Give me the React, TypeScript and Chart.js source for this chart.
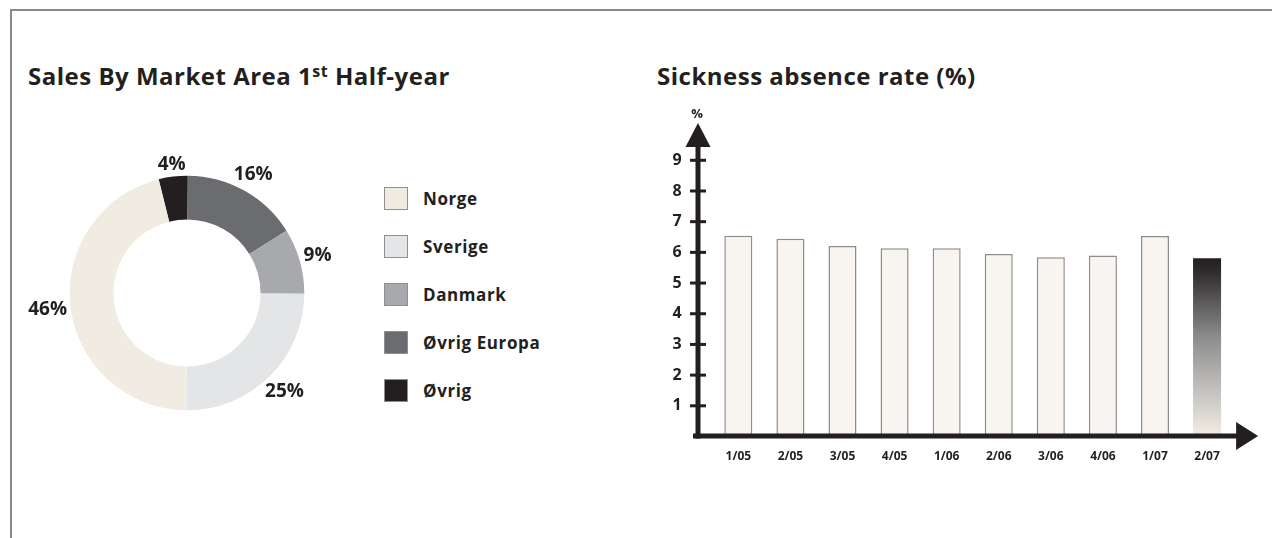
import React, { useEffect, useRef } from "react";
import { Chart, registerables } from "chart.js";

Chart.register(...registerables);

// ---------- Data ----------
const marketLabels = ["Norge", "Sverige", "Danmark", "Øvrig Europa", "Øvrig"];
const marketShares = [46, 25, 9, 16, 4];
const marketColors = ["#f1ece2", "#e4e5e7", "#a8a9ad", "#6b6c70", "#231f20"];

const periods = ["1/05", "2/05", "3/05", "4/05", "1/06", "2/06", "3/06", "4/06", "1/07", "2/07"];
const absenceRate = [6.54, 6.44, 6.21, 6.13, 6.13, 5.95, 5.84, 5.9, 6.53, 5.81];
const yTickValues = [1, 2, 3, 4, 5, 6, 7, 8, 9];

const leftTitle = "Sales By Market Area 1";
const leftTitleSup = "st";
const leftTitleEnd = " Half-year";
const rightTitle = "Sickness absence rate (%)";
const yUnit = "%";

const FONT = "'Open Sans', 'Noto Sans', sans-serif";
const INK = "#231f20";

const donutLabelPlugin = {
  id: "donutLabels",
  afterDatasetsDraw(chart: any) {
    const ctx = chart.ctx;
    const meta = chart.getDatasetMeta(0);
    const values = chart.data.datasets[0].data;
    ctx.save();
    ctx.font = `bold 19px ${FONT}`;
    ctx.fillStyle = INK;
    ctx.textAlign = "center";
    ctx.textBaseline = "middle";
    meta.data.forEach((arc: any, i: number) => {
      const p = arc.getProps(["x", "y", "startAngle", "endAngle", "outerRadius"], true);
      const mid = (p.startAngle + p.endAngle) / 2;
      const text = `${values[i]}%`;
      const w = ctx.measureText(text).width;
      const h = 14;
      const proj = Math.abs(Math.cos(mid)) * w / 2 + Math.abs(Math.sin(mid)) * h / 2;
      const r = p.outerRadius + 3 + proj;
      ctx.fillText(text, p.x + Math.cos(mid) * r, p.y + Math.sin(mid) * r);
    });
    ctx.restore();
  },
};

const arrowAxesPlugin = {
  id: "arrowAxes",
  afterDraw(chart: any) {
    const ctx = chart.ctx;
    const { left, right, top, bottom } = chart.chartArea;
    const ax = left - 14.3;
    const apex = top - 6.6;
    const base = apex + 24;
    ctx.save();
    ctx.fillStyle = INK;
    // y axis line
    ctx.fillRect(ax - 2.5, base - 1, 5, bottom + 2 - (base - 1));
    // y arrow
    ctx.beginPath();
    ctx.moveTo(ax, apex);
    ctx.lineTo(ax + 12.5, base);
    ctx.lineTo(ax - 12.5, base);
    ctx.closePath();
    ctx.fill();
    // x axis line
    const xBase = right + 3;
    ctx.fillRect(ax - 5, bottom - 3, xBase + 1 - (ax - 5), 5);
    // x arrow
    ctx.beginPath();
    ctx.moveTo(xBase + 22, bottom - 0.5);
    ctx.lineTo(xBase, bottom - 14.5);
    ctx.lineTo(xBase, bottom + 13.5);
    ctx.closePath();
    ctx.fill();
    // tick marks
    const ys = chart.scales.y;
    ys.ticks.forEach((t: any) => {
      const py = ys.getPixelForValue(t.value);
      ctx.fillRect(ax - 8, py - 1.5, 16, 3);
    });
    // unit
    ctx.font = `bold 13px ${FONT}`;
    ctx.textAlign = "center";
    ctx.textBaseline = "middle";
    ctx.fillText(yUnit, ax - 1, apex - 9);
    ctx.restore();
  },
};

export default function App() {
  const donutRef = useRef<HTMLCanvasElement>(null);
  const barRef = useRef<HTMLCanvasElement>(null);

  useEffect(() => {
    // Doughnut: drawn clockwise in reverse legend order
    const order = marketLabels.map((_, i) => i).reverse();
    const donut = new Chart(donutRef.current!, {
      type: "doughnut",
      data: {
        labels: order.map((i) => marketLabels[i]),
        datasets: [
          {
            data: order.map((i) => marketShares[i]),
            backgroundColor: order.map((i) => marketColors[i]),
            borderWidth: 0,
          },
        ],
      },
      options: {
        responsive: false,
        animation: false,
        rotation: -14,
        radius: 117.3,
        cutout: "62.7%",
        layout: { padding: 0 },
        plugins: { legend: { display: false }, tooltip: { enabled: false } },
      },
      plugins: [donutLabelPlugin],
    } as any);

    const lastIdx = absenceRate.length - 1;
    const bar = new Chart(barRef.current!, {
      type: "bar",
      data: {
        labels: periods,
        datasets: [
          {
            data: absenceRate,
            backgroundColor: (c: any) => {
              if (c.dataIndex !== lastIdx) return "#f8f5f0";
              const chart = c.chart;
              const ys = chart.scales?.y;
              if (!ys) return "#888";
              const y0 = ys.getPixelForValue(absenceRate[lastIdx]);
              const y1 = ys.getPixelForValue(0);
              const g = chart.ctx.createLinearGradient(0, y0, 0, y1);
              g.addColorStop(0, "#231f20");
              g.addColorStop(0.06, "#2c2829");
              g.addColorStop(0.45, "#8e8e8e");
              g.addColorStop(0.75, "#c4c3c0");
              g.addColorStop(1, "#f3eee4");
              return g;
            },
            borderColor: (c: any) => (c.dataIndex === lastIdx ? "rgba(0,0,0,0)" : "#8f8c88"),
            borderWidth: (c: any) => (c.dataIndex === lastIdx ? 0 : 1.5),
            barPercentage: 0.538,
            categoryPercentage: 1,
          },
        ],
      },
      options: {
        responsive: false,
        animation: false,
        layout: { padding: { left: 0, right: 38.9, top: 29.6, bottom: 0 } },
        plugins: { legend: { display: false }, tooltip: { enabled: false } },
        scales: {
          x: {
            offset: true,
            grid: { display: false, drawTicks: true, tickLength: 13 },
            border: { display: false },
            ticks: { font: { family: FONT, size: 12, weight: "bold" }, color: INK, padding: 0 },
            afterFit: (s: any) => {
              s.height = 43.5;
            },
          },
          y: {
            min: 0,
            max: 10,
            grid: { display: false, drawTicks: true, tickLength: 30.6 },
            border: { display: false },
            ticks: { font: { family: FONT, size: 16, weight: "bold" }, color: INK, padding: 0, stepSize: 1 },
            afterBuildTicks: (s: any) => {
              s.ticks = yTickValues.map((v) => ({ value: v }));
            },
            afterFit: (s: any) => {
              s.width = 72.3;
            },
          },
        },
      },
      plugins: [arrowAxesPlugin],
    } as any);

    return () => {
      donut.destroy();
      bar.destroy();
    };
  }, []);

  const titleStyle: React.CSSProperties = {
    position: "absolute",
    top: 64.2,
    fontFamily: FONT,
    fontWeight: "bold",
    fontSize: 24,
    letterSpacing: "0.5px",
    lineHeight: "24px",
    color: INK,
    whiteSpace: "nowrap",
  };

  return (
    <div style={{ position: "absolute", left: 0, top: 0, width: 1272, height: 538, background: "#fff", overflow: "hidden" }}>
      <div style={{ position: "absolute", left: 10, top: 9, width: 1262, height: 2, background: "#8a8a8a" }} />
      <div style={{ position: "absolute", left: 10, top: 9, width: 2, height: 529, background: "#8a8a8a" }} />

      <div style={{ ...titleStyle, left: 28 }}>
        {leftTitle}
        <span style={{ fontSize: 16, verticalAlign: "8px", lineHeight: 0 }}>{leftTitleSup}</span>
        {leftTitleEnd}
      </div>
      <div style={{ ...titleStyle, left: 657 }}>{rightTitle}</div>

      <canvas ref={donutRef} width={360} height={300} style={{ position: "absolute", left: 7, top: 143, width: 360, height: 300 }} />

      <div style={{ position: "absolute", left: 384, top: 187 }}>
        {marketLabels.map((label, i) => (
          <div key={label} style={{ display: "flex", alignItems: "center", height: 23, marginBottom: 25 }}>
            <div
              style={{
                width: 22,
                height: 21,
                background: marketColors[i],
                border: "1px solid #8f8f8f",
              }}
            />
            <div
              style={{
                marginLeft: 15,
                fontFamily: FONT,
                fontWeight: "bold",
                fontSize: 17,
                letterSpacing: "0.6px",
                lineHeight: "23px",
                color: INK,
                whiteSpace: "nowrap",
              }}
            >
              {label}
            </div>
          </div>
        ))}
      </div>

      <canvas ref={barRef} width={632} height={380} style={{ position: "absolute", left: 640, top: 100, width: 632, height: 380 }} />
    </div>
  );
}
